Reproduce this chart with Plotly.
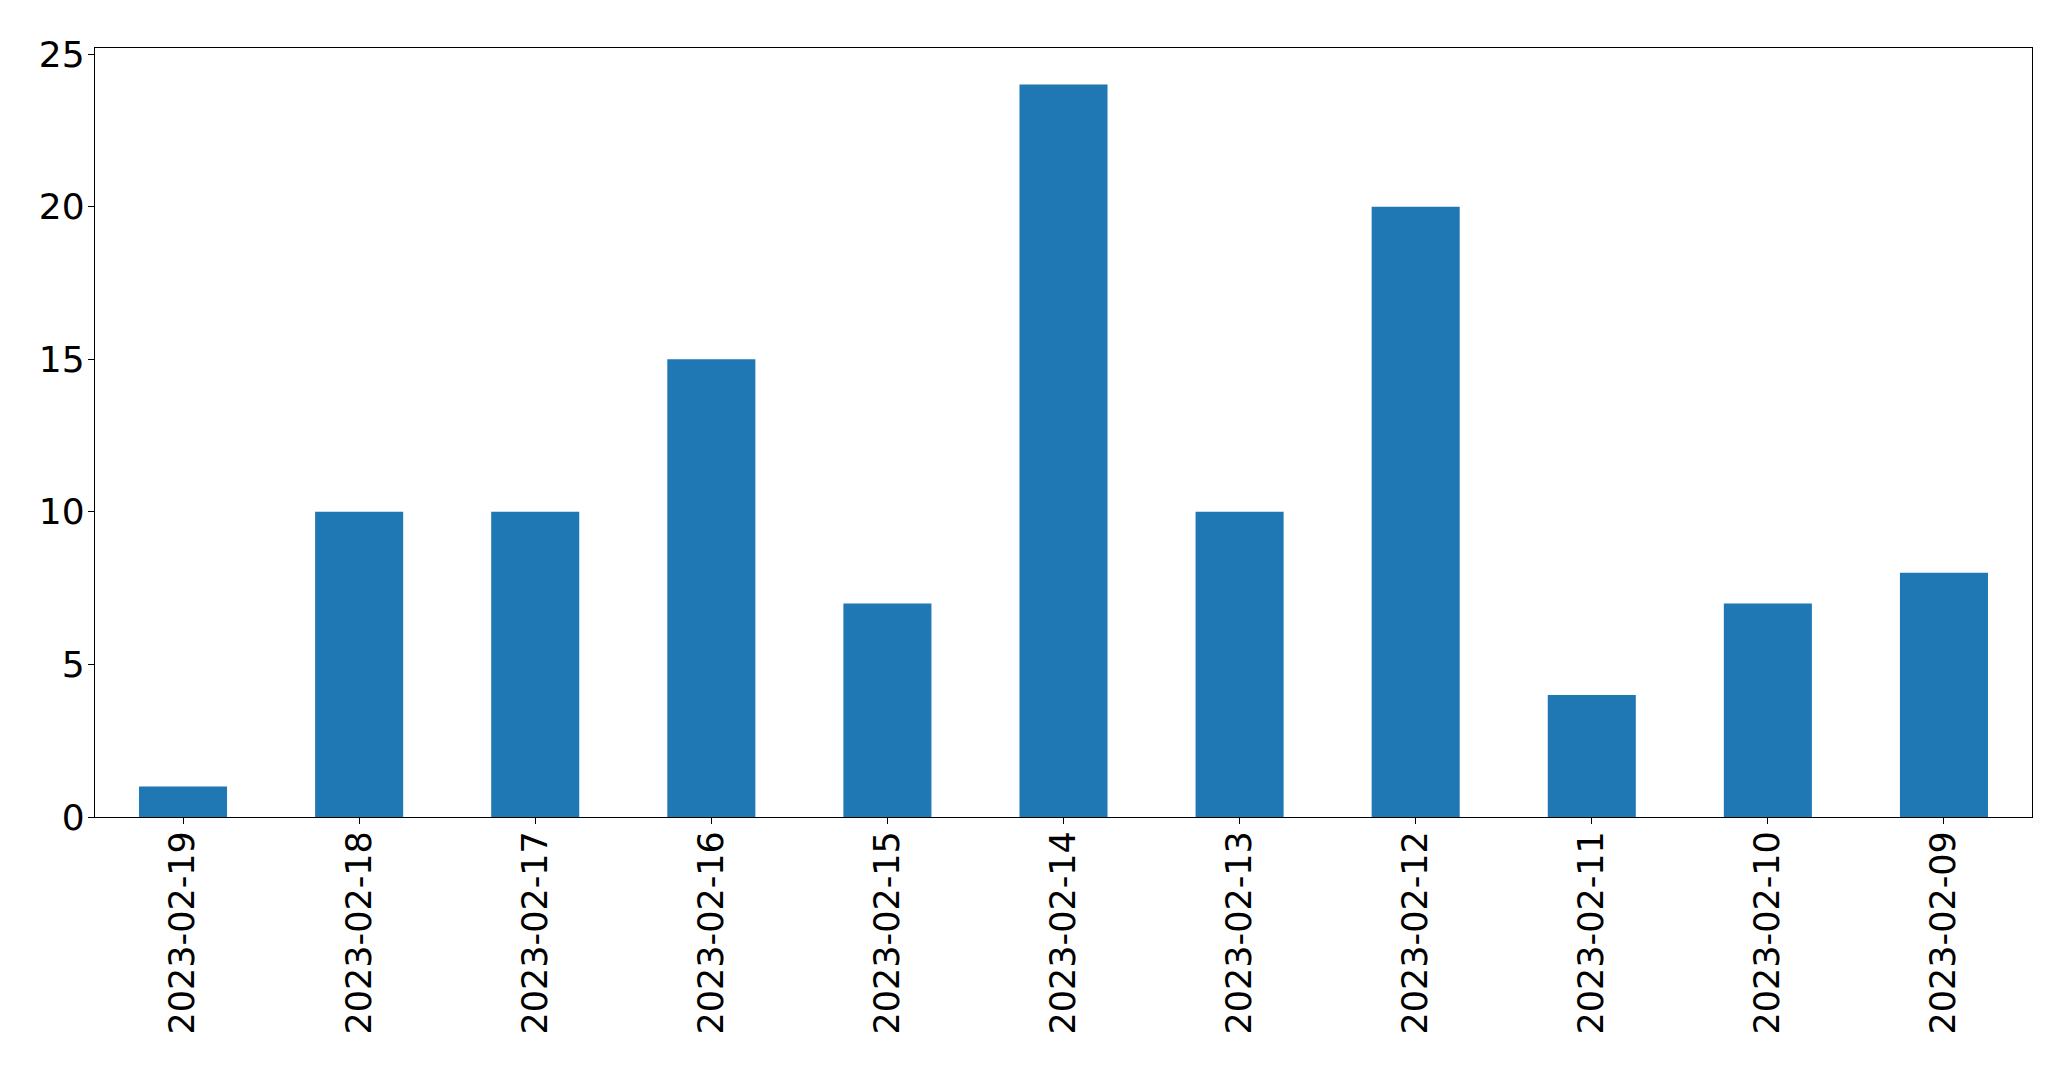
import plotly.graph_objects as go

dates = ["2023-02-19", "2023-02-18", "2023-02-17", "2023-02-16", "2023-02-15",
         "2023-02-14", "2023-02-13", "2023-02-12", "2023-02-11", "2023-02-10", "2023-02-09"]
counts = [1, 10, 10, 15, 7, 24, 10, 20, 4, 7, 8]
y_ticks = [0, 5, 10, 15, 20, 25]

fig = go.Figure(go.Bar(x=dates, y=counts, marker=dict(color="#1f77b4", line=dict(width=0)), width=0.5))

fig.update_layout(
    width=2071, height=1069,
    margin=dict(l=87, r=47, t=40, b=260),
    paper_bgcolor="white", plot_bgcolor="white",
    font=dict(family="DejaVu Sans", size=36, color="black"),
    showlegend=False,
)
fig.update_xaxes(
    type="category", range=[-0.5, 10.5], tickangle=-90,
    showline=True, mirror=True, linecolor="black", linewidth=1.3,
    ticks="outside", ticklen=6, tickwidth=1.3, tickcolor="black",
    showgrid=False, automargin=False, tickfont=dict(size=35),
    ticklabelstandoff=-7,
)
fig.update_yaxes(
    range=[0, 25.2], tickvals=y_ticks,
    showline=True, mirror=True, linecolor="black", linewidth=1.3,
    ticks="outside", ticklen=6, tickwidth=1.3, tickcolor="black",
    showgrid=False, zeroline=False, automargin=False, tickfont=dict(size=36),
    ticklabelstandoff=-4,
)

fig.write_html("out.html")
